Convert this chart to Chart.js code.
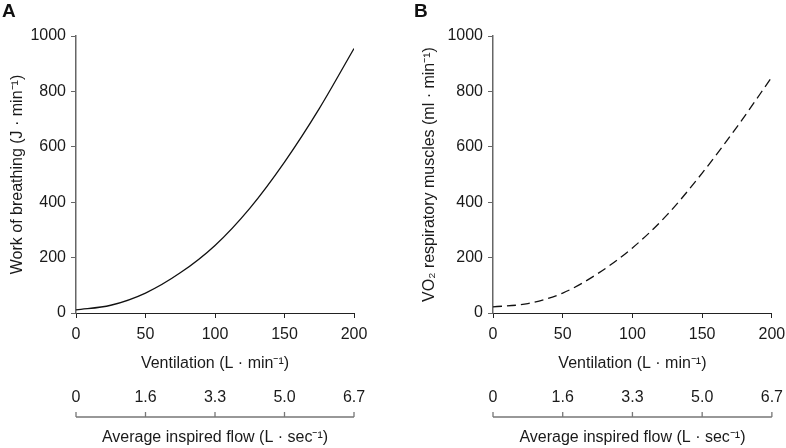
<!DOCTYPE html>
<html>
<head>
<meta charset="utf-8">
<script src="https://cdn.jsdelivr.net/npm/chart.js@4"></script>
<style>
  body { margin: 0; background: #fff; font-family: "Liberation Sans", Arial, sans-serif; overflow: hidden; }
  .panel { position: absolute; top: 0; height: 448px; }
  .tag { position: absolute; top: 0px; font-weight: bold; font-size: 19px; color: #111; }
</style>
</head>
<body>
<div class="panel" style="left:0"><canvas id="chartA" width="393" height="448"></canvas></div>
<div class="panel" style="left:393px"><canvas id="chartB" width="403" height="448"></canvas></div>
<div class="tag" style="left:2px">A</div>
<div class="tag" style="left:414px">B</div>
<script>
// Values
const ventilation = [0, 25, 50, 75, 100, 125, 150, 175, 200];
const workOfBreathing = [11, 28, 72, 145, 244, 378, 545, 738, 955];
const vo2Muscles = [22, 34, 72, 142, 235, 355, 505, 672, 852];
const flowLabels = ['0', '1.6', '3.3', '5.0', '6.7'];

const textColor = '#1a1a1a';
const font = { family: '"Liberation Sans", Arial, sans-serif', size: 16 };

// draws the line + upward ticks of the inspired-flow axis, under its labels
const flowAxisLine = {
    id: 'flowAxisLine',
    afterDraw(chart) {
        const s = chart.scales.x2;
        const ctx = chart.ctx;
        const y = s.top + 42;
        ctx.save();
        ctx.strokeStyle = '#777';
        ctx.lineWidth = 1.3;
        ctx.beginPath();
        ctx.moveTo(s.getPixelForValue(0), y);
        ctx.lineTo(s.getPixelForValue(200), y);
        s.ticks.forEach(t => {
            const x = s.getPixelForValue(t.value);
            ctx.moveTo(x, y);
            ctx.lineTo(x, y - 5);
        });
        ctx.stroke();
        ctx.restore();
    }
};

function makeChart(id, values, yTitle, dash, axisWidth, titlePad, padRight) {
    return new Chart(document.getElementById(id), {
        type: 'line',
        data: {
            datasets: [{
                data: ventilation.map((v, i) => ({ x: v, y: values[i] })),
                borderColor: '#111',
                borderWidth: 1.3,
                borderDash: dash,
                pointRadius: 0,
                cubicInterpolationMode: 'monotone',
                fill: false
            }]
        },
        options: {
            responsive: false,
            animation: false,
            layout: { padding: { top: 36, right: padRight, bottom: 0, left: 0 } },
            plugins: { legend: { display: false }, tooltip: { enabled: false } },
            scales: {
                x: {
                    type: 'linear', position: 'bottom', min: 0, max: 200,
                    ticks: { stepSize: 50, color: textColor, font: font, padding: 7, maxRotation: 0 },
                    grid: { drawOnChartArea: false, tickLength: 5, color: '#222' },
                    border: { color: '#222', width: 1 },
                    title: { display: true, text: 'Ventilation (L · min⁻¹)', color: textColor, font: font, padding: { top: 0, bottom: 2 } },
                    afterFit: s => { s.height = 62; }
                },
                x2: {
                    type: 'linear', position: 'bottom', min: 0, max: 200,
                    ticks: { stepSize: 50, color: textColor, font: font, padding: 13, maxRotation: 0,
                             callback: (v, i) => flowLabels[i] },
                    grid: { display: false, drawTicks: false },
                    border: { display: false },
                    title: { display: true, text: 'Average inspired flow (L · sec⁻¹)', color: textColor, font: font, padding: { top: 0, bottom: 1 } },
                    afterFit: s => { s.height = 73; }
                },
                y: {
                    min: 0, max: 1000,
                    ticks: { stepSize: 200, color: textColor, font: font, padding: 5, callback: v => String(v) },
                    grid: { drawOnChartArea: false, tickLength: 5, color: '#666' },
                    border: { color: '#666', width: 1.5 },
                    title: { display: true, text: yTitle, color: textColor, font: font, padding: { top: titlePad, bottom: 0 } },
                    afterFit: s => { s.width = axisWidth; }
                }
            }
        },
        plugins: [flowAxisLine]
    });
}

makeChart('chartA', workOfBreathing, 'Work of breathing (J · min⁻¹)', [], 76, 8, 39);
makeChart('chartB', vo2Muscles, 'VO₂ respiratory muscles (ml · min⁻¹)', [9, 5], 100, 27, 4);
</script>
</body>
</html>
